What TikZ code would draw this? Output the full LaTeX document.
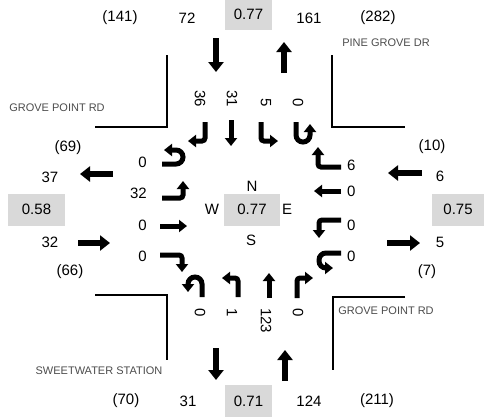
\documentclass[tikz,border=0pt]{standalone}
\usepackage{fontspec}
\setmainfont{Liberation Sans}
\usetikzlibrary{arrows.meta}

\begin{document}
\begin{tikzpicture}[x=1pt, y=-1pt,
  num/.style={font=\fontsize{15}{18}\selectfont, inner sep=0pt},
  street/.style={font=\fontsize{11}{13}\selectfont, text=black!70, inner sep=0pt},
  phf/.style={num, fill=black!15, minimum height=32pt},
  curb/.style={line width=1.8pt},
  legarr/.style={line width=6.5pt, -{Triangle[length=10pt,width=15pt]}},
  mvarr/.style={line width=5pt, -{Triangle[length=8pt,width=12pt]}, rounded corners=3pt},
  uturn/.style={mvarr, rounded corners=7pt}
]
\useasboundingbox (0,0) rectangle (484,416);

% leg totals and peak hour factors
\node[num] (nPk)  at (120,18)  {(141)};
\node[num] (nIn)  at (187,18)  {72};
\node[phf, minimum width=47pt] (nPhf) at (248.5,14) {0.77};
\node[num] (nOut) at (309,18)  {161};
\node[num] (nPk2) at (378,18)  {(282)};

\node[num] (sPk)  at (126,401) {(70)};
\node[num] (sOut) at (188,401) {31};
\node[phf, minimum width=47pt] (sPhf) at (248.5,401) {0.71};
\node[num] (sIn)  at (309,401) {124};
\node[num] (sPk2) at (377,401) {(211)};

\node[num] (wPk)  at (68,148)  {(69)};
\node[num] (wOut) at (50,177)  {37};
\node[phf, minimum width=57pt] (wPhf) at (36.5,209.5) {0.58};
\node[num] (wIn)  at (50,242)  {32};
\node[num] (wPk2) at (70,272)  {(66)};

\node[num] (ePk)  at (432,147) {(10)};
\node[num] (eIn)  at (440,176) {6};
\node[phf, minimum width=52pt] (ePhf) at (458,209.5) {0.75};
\node[num] (eOut) at (440,242) {5};
\node[num] (ePk2) at (427,272) {(7)};

\node[phf, minimum width=56pt] (cPhf) at (252,209.5) {0.77};
\node[num] (cN) at (252,186) {N};
\node[num] (cS) at (251,240) {S};
\node[num] (cW) at (212,209) {W};
\node[num] (cE) at (287,209) {E};

% streets
\node[street] (stNW) at (57,108)  {GROVE POINT RD};
\node[street] (stNE) at (386,43)  {PINE GROVE DR};
\node[street] (stSW) at (99,371)  {SWEETWATER STATION};
\node[street] (stSE) at (386,311) {GROVE POINT RD};

\draw[curb] (167,55) -- (167,127) -- (95,127);
\draw[curb] (332,55) -- (332,127) -- (405,127);
\draw[curb] (95,295) -- (167,295) -- (167,360);
\draw[curb] (405,297) -- (333,297) -- (333,370);

% leg arrows
\draw[legarr] (216,38) -- (216,72);
\draw[legarr] (284,73) -- (284,42);
\draw[legarr] (216,348) -- (216,380);
\draw[legarr] (285,381) -- (285,350);
\draw[legarr] (113,174) -- (80,174);
\draw[legarr] (78,243) -- (110,243);
\draw[legarr] (422,173) -- (388,173);
\draw[legarr] (387,243) -- (420,243);

% turning movements
\foreach \x/\v in {200/36, 232/31, 266/5, 298/0}
  \node[num, rotate=-90, anchor=east] (nb\v) at (\x,107) {\v};
\draw[mvarr] (205,122) -- (205,141) -- (188,141);
\draw[mvarr] (231,120) -- (231,146);
\draw[mvarr] (261,122) -- (261,141) -- (278,141);
\draw[uturn] (296,122) -- (296,142) -- (310,142) -- (310,124);

\node[num, anchor=east] (wbU) at (147,162) {0};
\node[num, anchor=east] (wbL) at (147,193) {32};
\node[num, anchor=east] (wbT) at (147,225) {0};
\node[num, anchor=east] (wbR) at (147,256) {0};
\draw[uturn] (162,164) -- (183,164) -- (183,150) -- (164,150);
\draw[mvarr] (162,198) -- (183,198) -- (183,181);
\draw[mvarr] (160,226) -- (187,226);
\draw[mvarr] (160,255) -- (182,255) -- (182,272);

\node[num, rotate=-90, anchor=west] (sbU) at (200,308) {0};
\node[num, rotate=-90, anchor=west] (sbL) at (232,308) {1};
\node[num, rotate=-90, anchor=west] (sbT) at (266,308) {123};
\node[num, rotate=-90, anchor=west] (sbR) at (298,308) {0};
\draw[uturn] (202,297) -- (202,277) -- (188,277) -- (188,292);
\draw[mvarr] (238,297) -- (238,278) -- (222,278);
\draw[mvarr] (269,298) -- (269,273);
\draw[mvarr] (297,298) -- (297,278) -- (313,278);

\node[num, anchor=west] (ebR) at (347,165) {6};
\node[num, anchor=west] (ebT) at (347,191) {0};
\node[num, anchor=west] (ebL) at (347,225) {0};
\node[num, anchor=west] (ebU) at (347,256) {0};
\draw[mvarr] (341,167) -- (318,167) -- (318,147);
\draw[mvarr] (341,191) -- (314,191);
\draw[mvarr] (341,220) -- (319,220) -- (319,238);
\draw[uturn] (341,253) -- (319,253) -- (319,268) -- (333,268);
\end{tikzpicture}
\end{document}
